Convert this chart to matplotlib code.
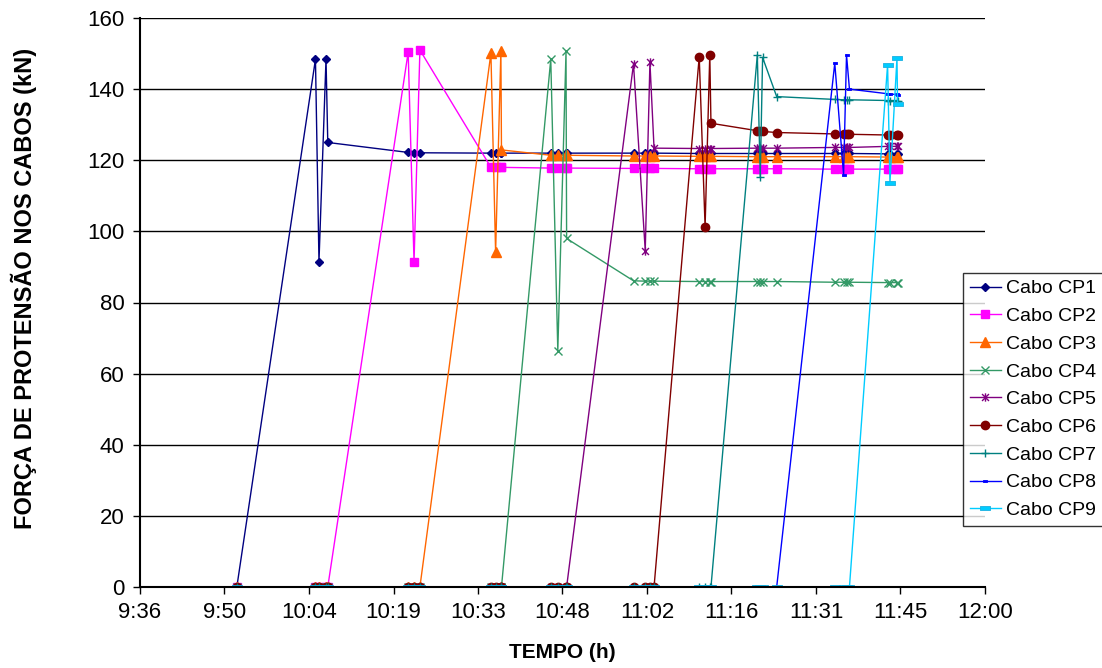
import matplotlib
matplotlib.use("Agg")
import matplotlib.pyplot as plt
from matplotlib.path import Path
import numpy as np

plt.rcParams['font.family'] = ['Liberation Sans', 'DejaVu Sans']

# Time of each reading, minutes since midnight (shared by all cables)
tempo_min = [592.5, 605.9, 606.5, 607.7, 608.0, 621.7, 622.7, 623.7,
             635.8, 636.6, 637.5, 637.6, 646.0, 647.2, 648.6, 648.7,
             660.1, 662.1, 662.9, 663.6, 671.3, 672.3, 673.1, 673.3,
             681.2, 681.7, 682.1, 684.5, 694.4, 695.9, 696.4, 696.9,
             703.4, 703.8, 705.0, 705.1]

cp1 = [0, 148.4, 91.5, 148.5, 125.0, 122.2, 122.1, 122.1,
       122.0, 122.0, 122.0, 122.0, 122.0, 122.0, 122.0, 122.0,
       122.0, 122.0, 122.0, 122.0, 121.9, 121.9, 121.9, 121.9,
       121.9, 121.9, 121.9, 121.9, 121.9, 121.9, 121.9, 121.9,
       121.8, 121.8, 121.8, 121.8]
cp2 = [0, 0, 0, 0, 0, 150.4, 91.4, 151.0,
       118.0, 118.0, 118.0, 118.0, 117.8, 117.8, 117.8, 117.8,
       117.7, 117.7, 117.7, 117.7, 117.6, 117.6, 117.6, 117.6,
       117.6, 117.6, 117.6, 117.6, 117.5, 117.5, 117.5, 117.5,
       117.5, 117.5, 117.5, 117.5]
cp3 = [0, 0, 0, 0, 0, 0, 0, 0,
       150.1, 94.1, 150.7, 122.9, 121.4, 121.4, 121.4, 121.4,
       121.2, 121.2, 121.2, 121.2, 121.1, 121.1, 121.1, 121.1,
       121.0, 121.0, 121.0, 121.0, 121.0, 121.0, 121.0, 121.0,
       120.9, 120.9, 120.9, 120.9]
cp4 = [0, 0, 0, 0, 0, 0, 0, 0,
       0, 0, 0, 0, 148.4, 66.5, 150.6, 98.0,
       86.1, 86.0, 86.0, 86.0, 85.9, 85.9, 85.9, 85.9,
       85.9, 85.9, 85.9, 85.9, 85.7, 85.7, 85.7, 85.7,
       85.6, 85.6, 85.6, 85.6]
cp5 = [0, 0, 0, 0, 0, 0, 0, 0,
       0, 0, 0, 0, 0, 0, 0, 0,
       147.1, 94.6, 147.5, 123.4, 123.3, 123.3, 123.3, 123.3,
       123.4, 123.4, 123.4, 123.4, 123.6, 123.6, 123.6, 123.6,
       123.9, 123.9, 123.9, 123.9]
cp6 = [0, 0, 0, 0, 0, 0, 0, 0,
       0, 0, 0, 0, 0, 0, 0, 0,
       0, 0, 0, 0, 149.1, 101.3, 149.7, 130.4,
       128.3, 128.2, 128.1, 127.8, 127.4, 127.3, 127.3, 127.3,
       127.1, 127.1, 127.1, 127.1]
cp7 = [0, 0, 0, 0, 0, 0, 0, 0,
       0, 0, 0, 0, 0, 0, 0, 0,
       0, 0, 0, 0, 0, 0, 0, 0,
       149.6, 115.4, 148.9, 137.9, 137.1, 137.0, 137.0, 137.0,
       136.8, 136.8, 136.8, 136.8]
cp8 = [0, 0, 0, 0, 0, 0, 0, 0,
       0, 0, 0, 0, 0, 0, 0, 0,
       0, 0, 0, 0, 0, 0, 0, 0,
       0, 0, 0, 0, 147.3, 115.9, 149.6, 140.0,
       138.7, 138.6, 138.5, 138.4]
cp9 = [0, 0, 0, 0, 0, 0, 0, 0,
       0, 0, 0, 0, 0, 0, 0, 0,
       0, 0, 0, 0, 0, 0, 0, 0,
       0, 0, 0, 0, 0, 0, 0, 0,
       146.8, 113.7, 148.7, 135.8]

series_names = ["Cabo CP1", "Cabo CP2", "Cabo CP3", "Cabo CP4", "Cabo CP5",
                "Cabo CP6", "Cabo CP7", "Cabo CP8", "Cabo CP9"]
series_values = [cp1, cp2, cp3, cp4, cp5, cp6, cp7, cp8, cp9]

x_tick_labels = ["9:36", "9:50", "10:04", "10:19", "10:33", "10:48",
                 "11:02", "11:16", "11:31", "11:45", "12:00"]
x_start, x_end = 576.0, 720.0
y_ticks = [0, 20, 40, 60, 80, 100, 120, 140, 160]

# custom markers
asterisk = Path([(-1, -1), (1, 1), (-1, 1), (1, -1), (0, -1.2), (0, 1.2)],
                [Path.MOVETO, Path.LINETO, Path.MOVETO, Path.LINETO,
                 Path.MOVETO, Path.LINETO])
small_rect = Path([(-1, -0.6), (1, -0.6), (1, 0.6), (-1, 0.6), (-1, -0.6)],
                  [Path.MOVETO, Path.LINETO, Path.LINETO, Path.LINETO,
                   Path.CLOSEPOLY])
dash_rect = Path([(-1, -0.35), (1, -0.35), (1, 0.35), (-1, 0.35), (-1, -0.35)],
                 [Path.MOVETO, Path.LINETO, Path.LINETO, Path.LINETO,
                  Path.CLOSEPOLY])

styles = [
    dict(color="#000080", marker="D", ms=4.0, mfc="#000080", mec="#000080"),
    dict(color="#FF00FF", marker="s", ms=6.3, mfc="#FF00FF", mec="#FF00FF"),
    dict(color="#FF6600", marker="^", ms=6.5, mfc="#FF6600", mec="#FF6600"),
    dict(color="#339966", marker="x", ms=5.8, mfc="none", mec="#339966", mew=1.0),
    dict(color="#800080", marker=asterisk, ms=6.0, mfc="none", mec="#800080", mew=1.0),
    dict(color="#800000", marker="o", ms=6.0, mfc="#800000", mec="#800000"),
    dict(color="#008080", marker="+", ms=6.0, mfc="#008080", mec="#008080", mew=1.0),
    dict(color="#0000FF", marker=small_rect, ms=3.5, mfc="#0000FF", mec="#0000FF", mew=0.6),
    dict(color="#00CCFF", marker=dash_rect, ms=6.5, mfc="#00CCFF", mec="#1AB0E0", mew=0.6),
]

fig = plt.figure(figsize=(11.02, 6.68), dpi=100)
W, H = 1102, 668
ax = fig.add_axes([140 / W, 1 - 587 / H, (985 - 140) / W, (587 - 18) / H])

for name, vals, st in zip(series_names, series_values, styles):
    ax.plot(tempo_min, vals, lw=1.0, label=name, **st)

ax.set_xlim(x_start, x_end)
ax.set_ylim(0, 160)
ax.set_xticks(np.linspace(x_start, x_end, len(x_tick_labels)))
ax.set_xticklabels(x_tick_labels)
ax.set_yticks(y_ticks)
ax.yaxis.grid(True, color="black", lw=1.0)
ax.set_axisbelow(True)
for s in ["top", "right"]:
    ax.spines[s].set_visible(False)
for s in ["left", "bottom"]:
    ax.spines[s].set_color("black")
    ax.spines[s].set_linewidth(1.5)
ax.tick_params(axis="both", direction="out", length=5, width=1.0,
               labelsize=16, colors="black")
ax.tick_params(axis="y", pad=6)
ax.tick_params(axis="x", pad=6)

fig.text(562 / W, 1 - 652 / H, "TEMPO (h)", ha="center", va="center",
         fontsize=15, fontweight="bold")
fig.text(24 / W, 1 - 288 / H, "FORÇA DE PROTENSÃO NOS CABOS (kN)",
         ha="center", va="center", rotation=90, fontsize=17, fontweight="bold")

leg = fig.legend(loc="upper left", bbox_to_anchor=(963 / W, 1 - 273 / H),
                 fontsize=14, frameon=True, fancybox=False, shadow=False,
                 numpoints=1, handlelength=1.6, handletextpad=0.25,
                 labelspacing=0.52, borderpad=0.35, borderaxespad=0)
leg.get_frame().set_edgecolor("black")
leg.get_frame().set_linewidth(1.0)

fig.savefig("out.png", dpi=100)
